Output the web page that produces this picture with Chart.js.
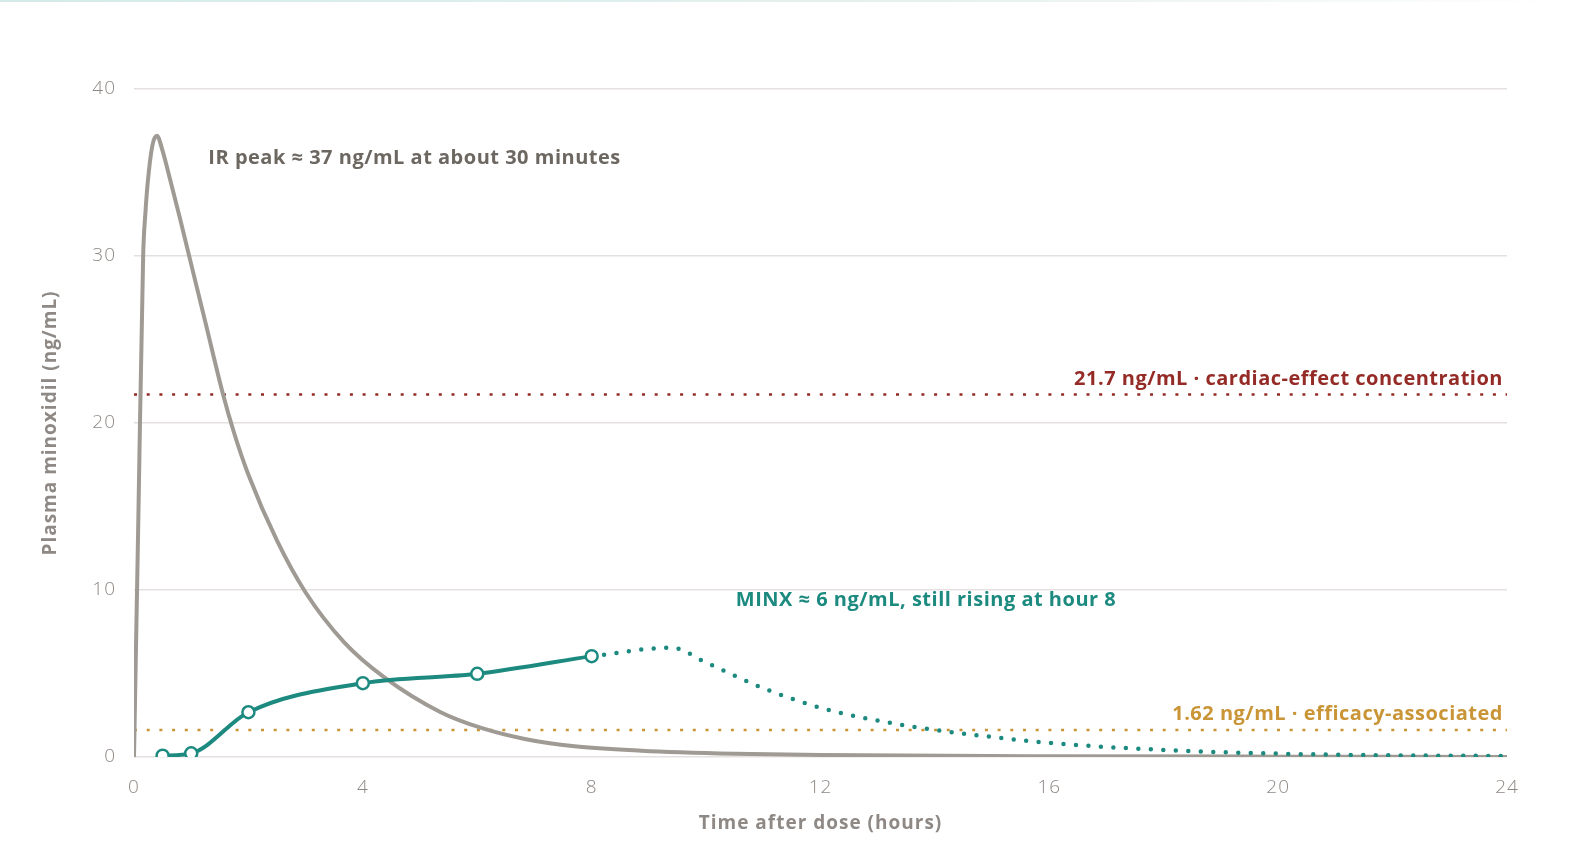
<!DOCTYPE html>
<html>
<head>
<meta charset="utf-8">
<title>Plasma minoxidil</title>
<script src="https://cdn.jsdelivr.net/npm/chart.js@4.4.1/dist/chart.umd.min.js"></script>
<style>
  html, body { margin: 0; padding: 0; background: #fff; }
  .topline { position: absolute; left: 0; top: 0; width: 1572px; height: 2px;
    background: linear-gradient(to right, #d3ebe8, #e6f1ef 60%, rgba(255,255,255,0)); }
  .wrap { position: relative; width: 1572px; height: 854px; }
</style>
</head>
<body>
<div class="wrap">
  <div class="topline"></div>
  <canvas id="pkChart"></canvas>
</div>
<script>
/* ============================================================
   MINOXIDIL PK — IR vs MINX
   ============================================================ */

// IR curve (hours, ng/mL)
const irHours  = [0, 0.075, 0.16, 0.2, 0.24, 0.32, 0.4, 0.5, 0.6, 0.8, 1.0, 1.25, 1.55, 1.75, 2.0, 2.5, 3.0, 3.67, 4.37, 5.36, 6.07, 6.83, 7.7, 8.87, 10.5, 12, 16, 20, 24];
const irValues = [0, 14.1, 30.0, 32.6, 34.4, 36.6, 37.2, 36.3, 35.0, 32.3, 29.5, 26.0, 21.8, 19.4, 16.9, 12.95, 9.85, 6.88, 4.78, 2.68, 1.74, 1.08, 0.64, 0.38, 0.2, 0.12, 0.04, 0.02, 0];

// MINX measured points
const minxHours  = [0.5, 1, 2, 4, 6, 8];
const minxValues = [0.08, 0.22, 2.68, 4.42, 4.98, 6.04];

// MINX projected tail (dotted)
const tailHours  = [8, 9.4, 10, 11, 12, 13, 14, 15, 16, 18, 20, 22, 24];
const tailValues = [6.04, 6.55, 5.65, 4.12, 2.95, 2.18, 1.62, 1.2, 0.84, 0.42, 0.2, 0.1, 0.06];

// reference levels
const cardiacLevel  = 21.7;
const efficacyLevel = 1.62;

const xTicks = [0, 4, 8, 12, 16, 20, 24];
const yTicks = [0, 10, 20, 30, 40];

const FONT = "'Open Sans'";
const GREY = '#a09a94';
const TEAL = '#1d8a80';
const RED = '#952b26';
const GOLD = '#c99537';
const TICK = '#8f8985';

const pts = (xs, ys) => xs.map((x, i) => ({ x, y: ys[i] }));

// text notes, anchored in data units
const notes = [
  { text: 'IR peak \u2248 37 ng/mL at about 30 minutes', x: 1.3, y: 35.85, align: 'left', color: '#6d6761' },
  { text: 'MINX \u2248 6 ng/mL, still rising at hour 8', x: 10.52, y: 9.37, align: 'left', color: TEAL },
  { text: '21.7 ng/mL \u00b7 cardiac-effect concentration', x: 23.93, y: 22.6, align: 'right', color: RED },
  { text: '1.62 ng/mL \u00b7 efficacy-associated', x: 23.93, y: 2.58, align: 'right', color: GOLD }
];

// wider tracking for all canvas text
const trackingPlugin = {
  id: 'tracking',
  beforeLayout(chart) { chart.ctx.letterSpacing = '1px'; },
  beforeDraw(chart) { chart.ctx.letterSpacing = '1px'; }
};

const notesPlugin = {
  id: 'notes',
  afterDatasetsDraw(chart) {
    const { ctx, scales } = chart;
    ctx.save();
    ctx.font = `bold 20px ${FONT}`;
    ctx.letterSpacing = '0.5px';
    ctx.textBaseline = 'middle';
    notes.forEach(n => {
      ctx.fillStyle = n.color;
      ctx.textAlign = n.align;
      ctx.fillText(n.text, scales.x.getPixelForValue(n.x), scales.y.getPixelForValue(n.y));
    });
    ctx.restore();
  }
};

Chart.defaults.font.family = FONT;

new Chart(document.getElementById('pkChart').getContext('2d'), {
  type: 'line',
  data: {
    datasets: [
      {
        data: pts(minxHours, minxValues),
        borderColor: TEAL,
        borderWidth: 4,
        cubicInterpolationMode: 'monotone',
        pointRadius: 6,
        pointBorderWidth: 2.5,
        pointBackgroundColor: '#fff',
        pointBorderColor: TEAL,
        order: 0
      },
      {
        data: pts(tailHours, tailValues),
        borderColor: TEAL,
        borderWidth: 4.5,
        borderDash: [0, 12.5],
        borderCapStyle: 'round',
        cubicInterpolationMode: 'monotone',
        pointRadius: 0,
        order: 1
      },
      {
        data: pts(irHours, irValues),
        borderColor: GREY,
        borderWidth: 4,
        cubicInterpolationMode: 'monotone',
        pointRadius: 0,
        order: 2
      },
      {
        data: [{ x: 0, y: cardiacLevel }, { x: 24, y: cardiacLevel }],
        borderColor: RED,
        borderWidth: 2.5,
        borderDash: [3, 9.7],
        pointRadius: 0,
        order: 3
      },
      {
        data: [{ x: 0, y: efficacyLevel }, { x: 24, y: efficacyLevel }],
        borderColor: GOLD,
        borderWidth: 2.5,
        borderDash: [3, 9.7],
        pointRadius: 0,
        order: 3
      }
    ]
  },
  options: {
    responsive: true,
    maintainAspectRatio: false,
    animation: false,
    layout: { padding: { left: 0, right: 65, top: 89, bottom: 0 } },
    plugins: { legend: { display: false }, tooltip: { enabled: false } },
    scales: {
      x: {
        type: 'linear',
        min: 0,
        max: 24,
        afterBuildTicks: s => { s.ticks = xTicks.map(v => ({ value: v })); },
        afterFit: s => { s.height = 97; },
        grid: { display: false },
        border: { display: false },
        ticks: { color: TICK, font: { size: 19, weight: 300 }, padding: 11 },
        title: {
          display: true,
          text: 'Time after dose (hours)',
          color: TICK,
          font: { size: 19, weight: 'bold' },
          padding: { top: 4, bottom: 19 }
        }
      },
      y: {
        min: 0,
        max: 40,
        afterBuildTicks: s => { s.ticks = yTicks.map(v => ({ value: v })); },
        afterFit: s => { s.width = 134; },
        grid: { color: '#e5e0e0', lineWidth: 1.5, drawTicks: false },
        border: { display: false },
        ticks: { color: TICK, font: { size: 19, weight: 300 }, padding: 18 },
        title: {
          display: true,
          text: 'Plasma minoxidil (ng/mL)',
          color: TICK,
          font: { size: 19, weight: 'bold' },
          padding: { top: 39, bottom: 0 }
        }
      }
    }
  },
  plugins: [trackingPlugin, notesPlugin]
});
</script>
</body>
</html>
